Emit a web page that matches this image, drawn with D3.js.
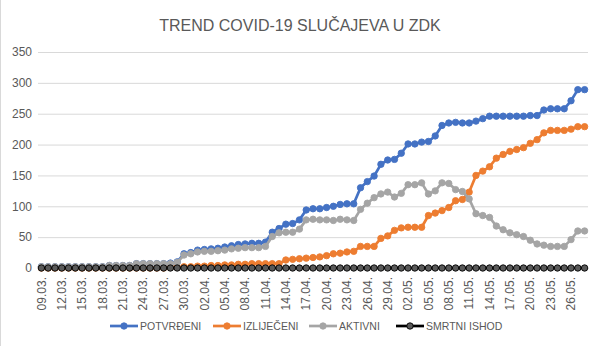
<!DOCTYPE html>
<html><head><meta charset="utf-8">
<script src="https://cdn.jsdelivr.net/npm/d3@7"></script>
<style>body{margin:0;background:#fff}svg{display:block}text{font-family:"Liberation Sans",Arial,sans-serif}</style>
</head><body><svg id="c" width="602" height="346"></svg>
<script>
const dates = ["09.03.","10.03.","11.03.","12.03.","13.03.","14.03.","15.03.","16.03.","17.03.","18.03.","19.03.","20.03.","21.03.","22.03.","23.03.","24.03.","25.03.","26.03.","27.03.","28.03.","29.03.","30.03.","31.03.",
"01.04.","02.04.","03.04.","04.04.","05.04.","06.04.","07.04.","08.04.","09.04.","10.04.","11.04.","12.04.","13.04.","14.04.","15.04.","16.04.","17.04.","18.04.","19.04.","20.04.","21.04.","22.04.","23.04.","24.04.","25.04.","26.04.","27.04.","28.04.","29.04.","30.04.",
"01.05.","02.05.","03.05.","04.05.","05.05.","06.05.","07.05.","08.05.","09.05.","10.05.","11.05.","12.05.","13.05.","14.05.","15.05.","16.05.","17.05.","18.05.","19.05.","20.05.","21.05.","22.05.","23.05.","24.05.","25.05.","26.05.","27.05.","28.05."];
const potvrdeni = [2,2,2,2,2,2,2,2,2,2,4,4,4,4,7,7,7,7,7,8,10,23,25,29,30,31,32,34,36,38,39,40,40,42,58,64,71,72,78,94,96,96,98,100,103,104,104,130,140,149,168,175,176,186,201,201,204,205,214,231,235,236,235,235,238,242,246,246,246,246,246,246,247,247,256,258,258,258,271,289,289];
const izlijeceni = [0,0,0,0,0,0,0,0,0,0,0,0,0,0,0,0,0,0,0,1,1,2,2,3,3,4,4,5,5,6,6,7,7,7,7,7,13,14,15,16,17,18,20,23,24,26,27,35,35,35,48,52,61,65,66,66,66,85,89,93,98,109,111,123,150,157,164,178,184,189,192,195,202,208,219,223,223,223,225,229,229];
const aktivni = [2,2,2,2,2,2,2,2,2,2,4,4,4,4,7,7,7,7,7,7,9,21,23,26,27,27,28,29,31,32,33,33,33,35,51,57,58,58,63,78,79,78,78,77,79,78,77,95,105,114,120,123,115,121,135,135,138,120,125,138,137,127,124,112,88,85,82,68,62,57,54,51,45,39,37,35,35,35,46,60,60];
const smrtni = [0,0,0,0,0,0,0,0,0,0,0,0,0,0,0,0,0,0,0,0,0,0,0,0,0,0,0,0,0,0,0,0,0,0,0,0,0,0,0,0,0,0,0,0,0,0,0,0,0,0,0,0,0,0,0,0,0,0,0,0,0,0,0,0,0,0,0,0,0,0,0,0,0,0,0,0,0,0,0,0,0];
const seriesNames = ["POTVRĐENI","IZLIJEČENI","AKTIVNI","SMRTNI ISHOD"];
const seriesColors = ["#4472c4","#ed7d31","#a5a5a5","#000000"];
const markerFills = ["#4472c4","#ed7d31","#a5a5a5","#595959"];
const yTicks = [0,50,100,150,200,250,300,350];
const title = "TREND COVID-19 SLUČAJEVA U ZDK";

const seriesData = [potvrdeni, izlijeceni, aktivni, smrtni];
const svg = d3.select("#c");
const L = 38, R = 588, T = 52, B = 268;
const x = d3.scaleBand().domain(dates).range([L, R]).padding(0);
const cx = d => x(d) + x.bandwidth()/2;
const y = d3.scaleLinear().domain([0, 350]).range([B, T]);

svg.append("line").attr("x1",0.5).attr("x2",0.5).attr("y1",0).attr("y2",346).attr("stroke","#d9d9d9");

svg.append("text").attr("x",300).attr("y",31).attr("text-anchor","middle")
  .attr("font-size",16).attr("fill","#595959").text(title);

const yAxis = d3.axisLeft(y).tickValues(yTicks).tickSize(-(R-L)).tickPadding(6);
const gy = svg.append("g").attr("transform",`translate(${L},0)`).call(yAxis);
gy.select(".domain").remove();
gy.selectAll(".tick line").attr("stroke","#d9d9d9");
gy.selectAll(".tick text").attr("fill","#595959").attr("font-size",12).attr("font-family","Liberation Sans, Arial, sans-serif");

const xAxis = d3.axisBottom(x).tickValues(dates.filter((d,i)=>i%3===0)).tickSize(0).tickPadding(0);
const gx = svg.append("g").attr("transform",`translate(0,${B})`).call(xAxis);
gx.select(".domain").attr("stroke","#d9d9d9");
gx.selectAll(".tick text").attr("fill","#595959").attr("font-size",12).attr("font-family","Liberation Sans, Arial, sans-serif")
  .attr("text-anchor","end").attr("transform","translate(0,9) rotate(-90)").attr("dy","0.35em").attr("x",0).attr("y",0);

const line = d3.line().x((v,i)=>cx(dates[i])).y(v=>y(v));
seriesData.forEach((arr, k) => {
  const g = svg.append("g");
  g.append("path").datum(arr).attr("d", line).attr("fill","none")
    .attr("stroke", seriesColors[k]).attr("stroke-width", 2.7).attr("stroke-linejoin","round");
  g.selectAll("circle").data(arr).join("circle")
    .attr("cx",(v,i)=>cx(dates[i])).attr("cy",v=>y(v)).attr("r",3.2)
    .attr("fill", markerFills[k]).attr("stroke", seriesColors[k]).attr("stroke-width",0.9);
});

const legX = [110, 213, 309, 396];
const lg = svg.append("g");
seriesNames.forEach((n,k)=>{
  const g = lg.append("g").attr("transform",`translate(${legX[k]},326)`);
  g.append("line").attr("x1",0).attr("x2",28).attr("stroke",seriesColors[k]).attr("stroke-width",2.7);
  g.append("circle").attr("cx",14).attr("r",3.2).attr("fill",markerFills[k]).attr("stroke",seriesColors[k]).attr("stroke-width",0.9);
  g.append("text").attr("x",30).attr("dy","0.35em").attr("font-size",10.5).attr("fill","#595959").text(n);
});
</script></body></html>
